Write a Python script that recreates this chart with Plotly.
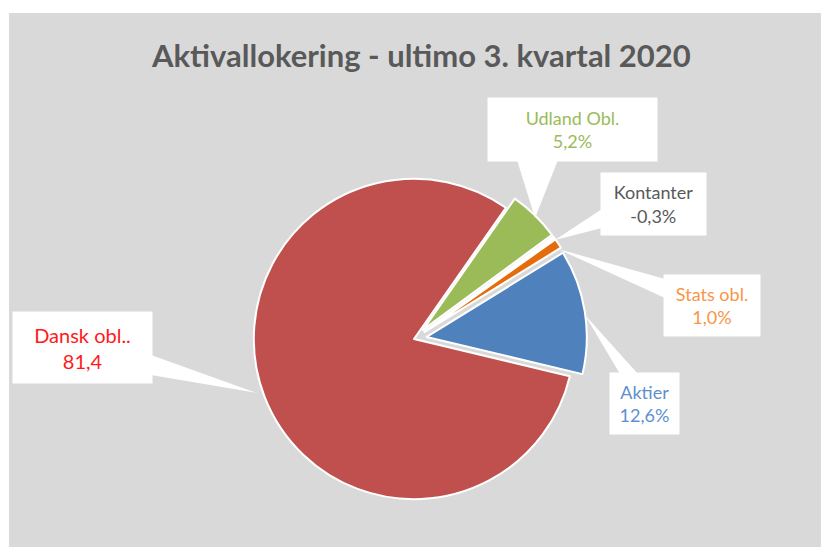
import plotly.graph_objects as go

W, H = 829, 547
OFF = 8  # default page margin of the written html body

# ---- data ----
categories = ["Udland Obl.", "Kontanter", "Stats obl.", "Aktier", "Dansk obl."]
values = [5.2, -0.3, 1.0, 12.6, 81.4]          # percent, as reported
label_values = ["5,2%", "-0,3%", "1,0%", "12,6%", "81,4"]
label_names = ["Udland Obl.", "Kontanter", "Stats obl.", "Aktier", "Dansk obl.."]

slice_colors = ["#9bbb59", "#ffffff", "#e46c0a", "#4f81bd", "#c0504d"]
text_colors = ["#9bbb59", "#595959", "#f79646", "#5e90cf", "#ff1a1a"]
label_sizes = [18, 18, 18, 18, 20]
pulls = [0.08, 0.08, 0.08, 0.08, 0.0]

def px(x):
    return (x - OFF) / W

def py(y):
    return 1 - (y - OFF) / H

# pie draws absolute values (as a spreadsheet pie does with negatives)
pie_values = [abs(v) for v in values]

fig = go.Figure()
fig.add_trace(go.Pie(
    labels=categories,
    values=pie_values,
    sort=False,
    direction="clockwise",
    rotation=35,
    pull=pulls,
    marker=dict(colors=slice_colors, line=dict(color="#ffffff", width=2)),
    textinfo="none",
    hoverinfo="label+value",
    showlegend=False,
    domain=dict(x=[px(241), px(587)], y=[py(512), py(166)]),
))

# label boxes: centre x, centre y, width, height  (page pixels)
boxes = [
    (572.5, 129.5, 169, 63),
    (653.5, 204, 105, 62),
    (712, 305.5, 96, 61),
    (644.5, 403.5, 69, 61),
    (82.5, 347.5, 139, 71),
]
# callout wedges (page pixels): two base points and the tip
wedges = [
    [(517, 160), (558, 160), (535, 218)],
    [(602, 209), (602, 228), (555, 240)],
    [(665, 279), (665, 298), (558, 249)],
    [(620, 374), (638, 374), (585, 315)],
    [(151, 355), (151, 375), (257, 393)],
]

shapes = [dict(type="rect", xref="paper", yref="paper",
               x0=px(9), x1=1.02, y0=-0.02, y1=py(13),
               fillcolor="#d9d9d9", line=dict(width=0), layer="below")]
for wdg in wedges:
    path = "M {} {} L {} {} L {} {} Z".format(
        px(wdg[0][0]), py(wdg[0][1]), px(wdg[1][0]), py(wdg[1][1]),
        px(wdg[2][0]), py(wdg[2][1]))
    shapes.append(dict(type="path", xref="paper", yref="paper", path=path,
                       fillcolor="#ffffff", line=dict(width=0), layer="above"))

annotations = []
for (cx, cy, bw, bh), nm, val, col, fs in zip(boxes, label_names, label_values,
                                              text_colors, label_sizes):
    annotations.append(dict(
        x=px(cx), y=py(cy), xref="paper", yref="paper",
        xanchor="center", yanchor="middle",
        text=nm + "<br>" + val, showarrow=False,
        width=bw, height=bh, bgcolor="#ffffff", borderpad=0,
        align="center", valign="middle",
        font=dict(family="Lato", size=fs, color=col),
    ))

annotations.append(dict(
    x=px(421), y=py(55), xref="paper", yref="paper",
    xanchor="center", yanchor="middle", showarrow=False,
    text="<b>Aktivallokering - ultimo 3. kvartal 2020</b>",
    font=dict(family="Lato", size=31, color="#595959"),
))

fig.update_layout(
    width=W, height=H,
    margin=dict(l=0, r=0, t=0, b=0),
    paper_bgcolor="#ffffff",
    shapes=shapes,
    annotations=annotations,
)

fig.write_html("out.html")
